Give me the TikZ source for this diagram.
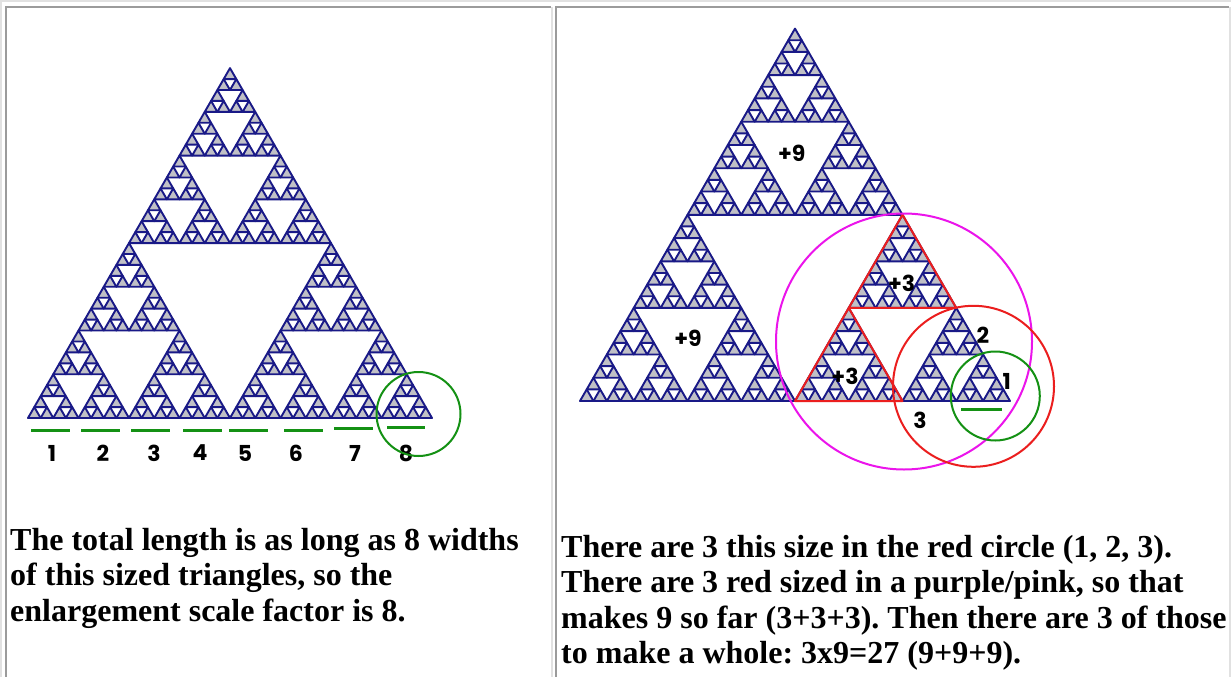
\documentclass[tikz,border=0pt]{standalone}
\usepackage{fontspec}
\setmainfont{Liberation Serif}
\newfontfamily\labfont{Poppins}
\frenchspacing
\definecolor{sblue}{RGB}{25,25,135}
\definecolor{sgray}{RGB}{192,192,198}
\definecolor{sgreen}{RGB}{20,145,20}
\definecolor{sred}{RGB}{235,30,30}
\definecolor{smag}{RGB}{235,20,235}
\definecolor{bdark}{RGB}{155,155,155}
\definecolor{blight}{RGB}{225,225,225}
\tikzset{
  leaf/.style={fill=sgray, draw=sblue, line width=1.9pt, line join=round},
  txt/.style={font=\fontsize{32}{35.5}\selectfont\bfseries, align=left, inner sep=0pt},
  lab/.style={font=\labfont\bfseries\fontsize{22}{26}\selectfont, inner sep=0pt},
  gseg/.style={draw=sgreen, line width=3pt},
  gcirc/.style={draw=sgreen, line width=2pt},
  rcirc/.style={draw=sred, line width=2pt},
  mcirc/.style={draw=smag, line width=2pt},
  rtri/.style={draw=sred, line width=2pt, line join=round},
  bordD/.style={draw=bdark, line width=2pt},
  bordL/.style={draw=blight, line width=2pt},
}
\def\sierp#1#2#3#4{%
  \ifnum#4=0\relax
    \pgfmathsetmacro\sxa{#1+#3}%
    \pgfmathsetmacro\sxb{#1+#3/2}%
    \pgfmathsetmacro\syb{#2-#3*0.8660254}%
    \filldraw[leaf] (#1,#2) -- (\sxa,#2) -- (\sxb,\syb) -- cycle;
  \else
    \begingroup
    \pgfmathsetmacro\sh{#3/2}%
    \pgfmathsetmacro\sxa{#1+\sh}%
    \pgfmathsetmacro\sxb{#1+\sh/2}%
    \pgfmathsetmacro\syb{#2-\sh*0.8660254}%
    \pgfmathtruncatemacro\sd{#4-1}%
    \edef\snext{\noexpand\sierp{#1}{#2}{\sh}{\sd}\noexpand\sierp{\sxa}{#2}{\sh}{\sd}\noexpand\sierp{\sxb}{\syb}{\sh}{\sd}}%
    \expandafter\endgroup\snext
  \fi}
\begin{document}
\begin{tikzpicture}[x=1pt,y=-1pt]
\useasboundingbox (0,0) rectangle (1232,677);
\fill[white] (0,0) rectangle (1232,677);
% table borders
\draw[bordL] (1,677) -- (1,1) -- (1231,1);
\draw[bordD] (6,677) -- (6,7) -- (551,7);
\draw[bordL] (551.5,7) -- (551.5,677);
\draw[bordD] (556,677) -- (556,7) -- (1229,7);
\draw[bordL] (1229.5,7) -- (1229.5,677);
% left fractal
\sierp{28}{418}{404}{5}
% green segments
\draw[gseg] (31,430) -- (70,430);
\draw[gseg] (81,430) -- (120,430);
\draw[gseg] (131,430) -- (170,430);
\draw[gseg] (183,430) -- (222,430);
\draw[gseg] (229,430) -- (268,430);
\draw[gseg] (284,430) -- (323,430);
\draw[gseg] (334,428) -- (373,428);
\draw[gseg] (387,427) -- (425,427);
\node[lab] (l1) at (52,453) {1};
\node[lab] (l2) at (103,453) {2};
\node[lab] (l3) at (154,453) {3};
\node[lab] (l4) at (200,453) {4};
\node[lab] (l5) at (245,453) {5};
\node[lab] (l6) at (296,453) {6};
\node[lab] (l7) at (355,453) {7};
\node[lab] (l8) at (406,453) {8};
\draw[gcirc] (418.5,414) circle (42);
% right fractal
\sierp{580}{401}{430}{5}
\draw[rtri] (848.75,307.9) -- (956.25,307.9) -- (902.5,214.8) -- cycle;
\draw[rtri] (795,401) -- (902.5,401) -- (848.75,307.9) -- cycle;
\draw[mcirc] (904,341.5) circle (128);
\draw[rcirc] (973.5,386.3) circle (80.5);
\draw[gcirc] (995.3,396) circle (44.5);
\draw[gseg] (961,409) -- (1002,409);
\node[lab] (p9a) at (791.7,153) {+9};
\node[lab] (p9b) at (688,338) {+9};
\node[lab] (p3a) at (901.7,283) {+3};
\node[lab] (p3b) at (845,376.7) {+3};
\node[lab] (r2) at (983,335) {2};
\node[lab] (r1) at (1006.7,381.7) {1};
\node[lab] (r3) at (920,420) {3};
% texts
\node[txt, anchor=north west] (lt) at (10,528) {The total length is as long as 8 widths\\of this sized triangles, so the\\enlargement scale factor is 8.};
\node[txt, anchor=north west] (rt) at (561,535) {There are 3 this size in the red circle (1, 2, 3).\\There are 3 red sized in a purple/pink, so that\\makes 9 so far (3+3+3). Then there are 3 of those\\to make a whole: 3x9=27 (9+9+9).};
\end{tikzpicture}
\end{document}
